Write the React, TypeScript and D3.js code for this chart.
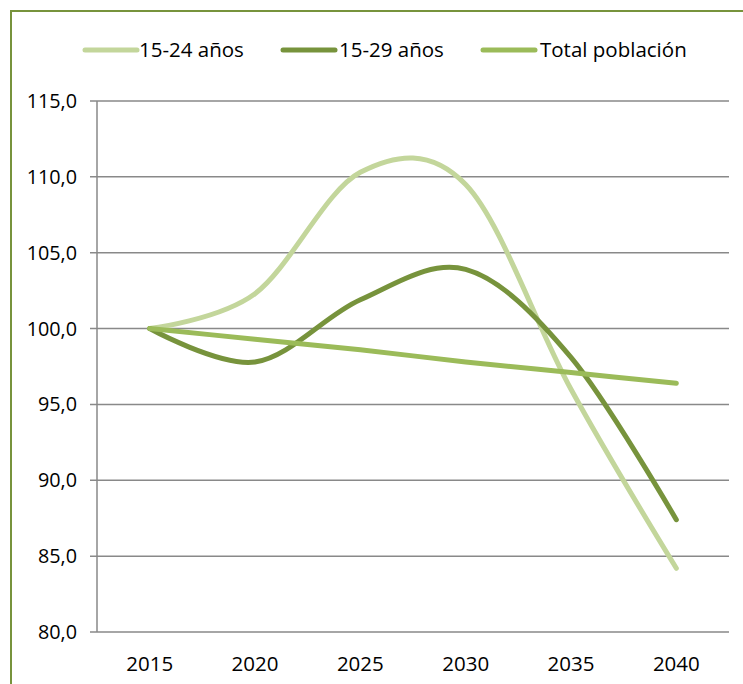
import React from "react";
import * as d3 from "d3";

const years = ["2015", "2020", "2025", "2030", "2035", "2040"];
const s1524 = [100, 102.3, 110.3, 109.5, 96.0, 84.2];
const s1529 = [100, 97.8, 101.9, 103.9, 98.1, 87.4];
const sTotal = [100, 99.3, 98.6, 97.8, 97.1, 96.4];
const yTicks = [80, 85, 90, 95, 100, 105, 110, 115];
const seriesNames = ["15-24 años", "15-29 años", "Total población"];
const seriesColors = ["#C3D69B", "#77933C", "#9BBB59"];

export default function App() {
  const W = 743, H = 684;
  const left = 97, right = 729, top = 101, bottom = 632;
  const x = d3.scaleBand().domain(years).range([left, right]);
  const y = d3.scaleLinear().domain([80, 115]).range([bottom, top]);
  const cx = (d: string) => (x(d) as number) + x.bandwidth() / 2;
  const line = d3
    .line<number>()
    .x((_, i) => cx(years[i]))
    .y((v) => y(v))
    .curve(d3.curveCardinal.tension(0));
  const all = [s1524, s1529, sTotal];
  const font = "'Open Sans', sans-serif";
  const legendItems = [
    { lx: 85, tx: 139 },
    { lx: 283, tx: 339 },
    { lx: 483, tx: 540 },
  ];
  return (
    <svg width={W} height={H} style={{ position: "absolute", left: 0, top: 0 }} fontFamily={font}>
      <rect x={0} y={0} width={W} height={H} fill="#fff" />
      <rect x={11} y={11} width={800} height={800} fill="none" stroke="#77933C" strokeWidth={2} />
      {yTicks.map((t) => (
        <g key={t}>
          <line x1={90} x2={right} y1={y(t)} y2={y(t)} stroke="#898989" strokeWidth={1.5} />
          <text x={77} y={y(t)} dy="0.35em" textAnchor="end" fontSize={19.8} fill="#000">
            {t.toFixed(1).replace(".", ",")}
          </text>
        </g>
      ))}
      <line x1={left} x2={left} y1={top} y2={bottom} stroke="#898989" strokeWidth={1.5} />
      {years.map((yr) => (
        <text key={yr} x={cx(yr)} y={664} dy="0.35em" textAnchor="middle" fontSize={20.5} fill="#000">
          {yr}
        </text>
      ))}
      {all.map((s, i) => (
        <path
          key={i}
          d={line(s) as string}
          fill="none"
          stroke={seriesColors[i]}
          strokeWidth={5}
          strokeLinecap="round"
          strokeLinejoin="round"
        />
      ))}
      {legendItems.map((it, i) => (
        <g key={i}>
          <line x1={it.lx} x2={it.lx + 52} y1={50} y2={50} stroke={seriesColors[i]} strokeWidth={5} strokeLinecap="round" />
          <text x={it.tx} y={50} dy="0.35em" fontSize={20.5} fill="#000">
            {seriesNames[i]}
          </text>
        </g>
      ))}
    </svg>
  );
}
